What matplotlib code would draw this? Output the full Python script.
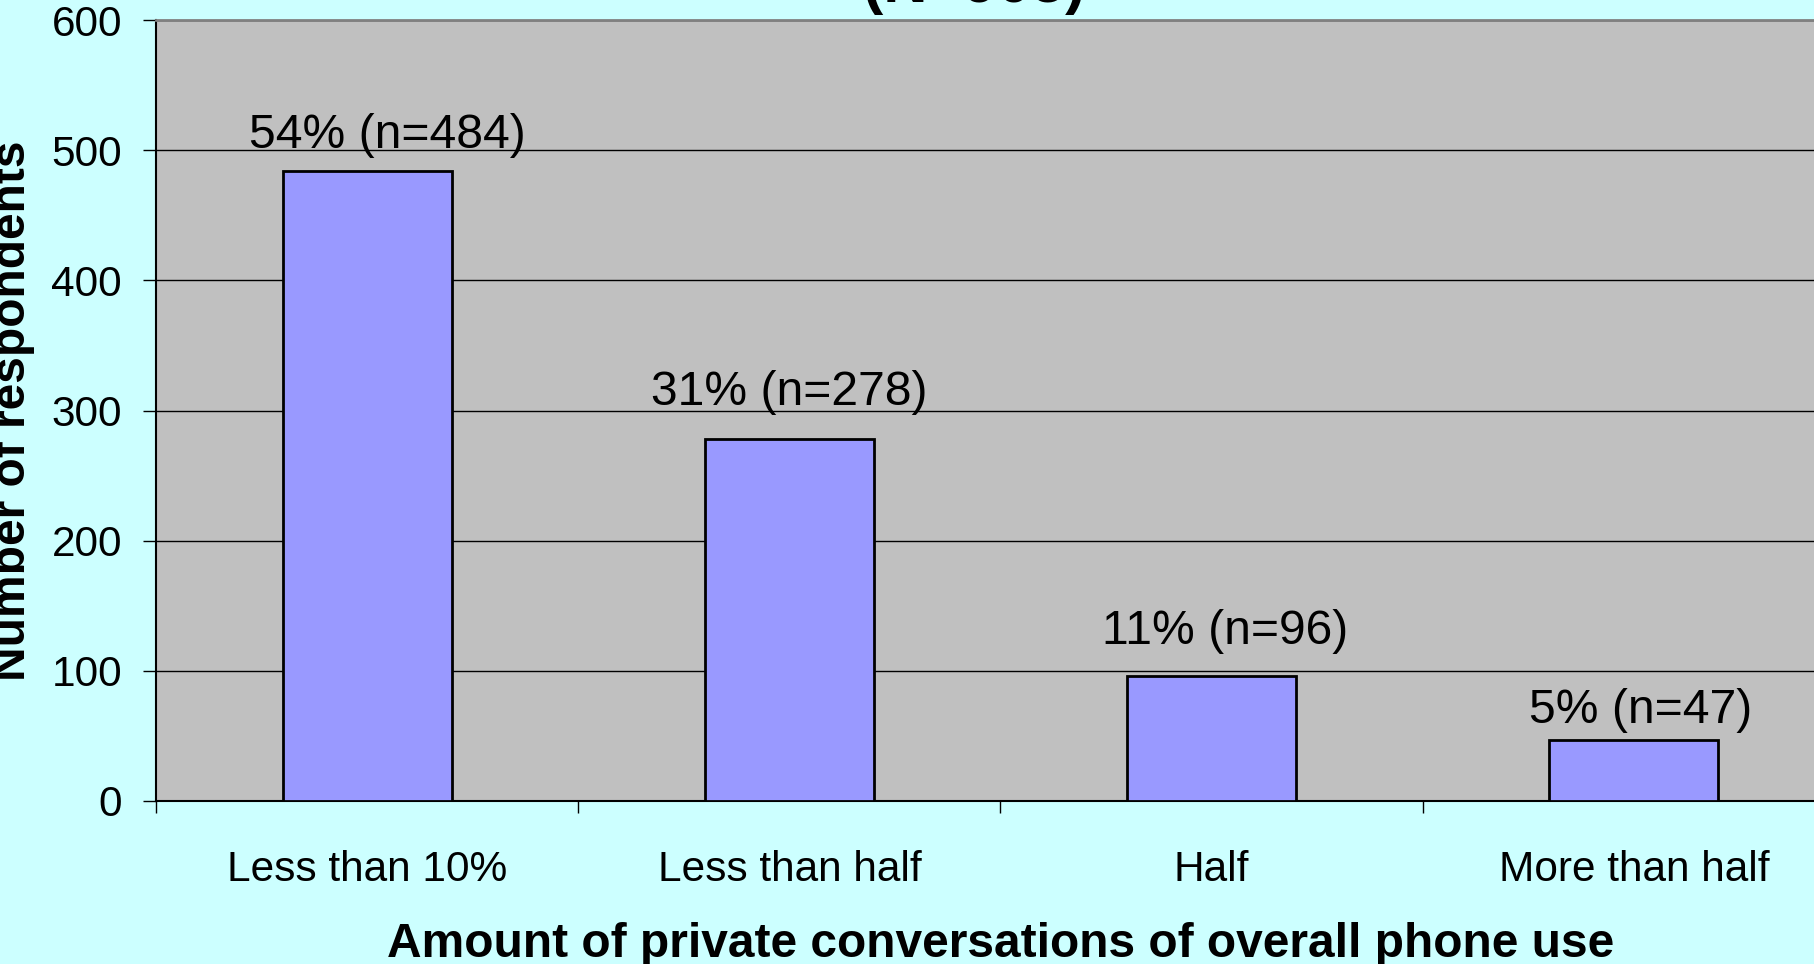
import matplotlib
matplotlib.use("Agg")
import matplotlib.pyplot as plt

# ---- data ----
categories = ["Less than 10%", "Less than half", "Half", "More than half"]
counts = [484, 278, 96, 47]
percents = [54, 31, 11, 5]
yticks = [0, 100, 200, 300, 400, 500, 600]
title_text = "(N=905)"
xlabel_text = "Amount of private conversations of overall phone use"
ylabel_text = "Number of respondents"

# label nudges (pixels) - style only
label_dx = [20, 0, 13, 7]
label_dy = [23, 34, 32, 17]

W, H = 1814, 964
plt.rcParams['font.family'] = ['Liberation Sans', 'DejaVu Sans']
fig = plt.figure(figsize=(W / 100, H / 100), dpi=100, facecolor='#CCFFFF')

left = 156 / W
bottom = 1 - 801 / H
top = 1 - 20 / H
right = 1845 / W
ax = fig.add_axes([left, bottom, right - left, top - bottom])
ax.set_facecolor('#C0C0C0')

x = list(range(len(categories)))
ax.bar(x, counts, width=0.4, color='#9999FF', edgecolor='black', linewidth=2.0, zorder=3)

ax.set_xlim(-0.5, len(categories) - 0.5)
ax.set_ylim(0, 600)
ax.set_yticks(yticks)
ax.set_yticklabels([str(v) for v in yticks])
ax.yaxis.grid(True, color='black', linewidth=1.0, zorder=1)
ax.set_axisbelow(True)

# major ticks at category boundaries, labels on minor ticks at centers
ax.set_xticks([i - 0.5 for i in range(len(categories) + 1)])
ax.set_xticklabels([])
ax.set_xticks(x, minor=True)
ax.set_xticklabels(categories, minor=True)
ax.tick_params(axis='x', which='major', direction='out', length=8.6, width=1.0, color='black')
ax.tick_params(axis='x', which='minor', length=0, pad=35, labelsize=30.5)
ax.tick_params(axis='y', direction='out', length=9.4, width=1.0, color='black', pad=15, labelsize=30.5)

for s in ['left', 'bottom']:
    ax.spines[s].set_color('black')
    ax.spines[s].set_linewidth(1.5)
ax.spines['top'].set_color('#808080')
ax.spines['top'].set_linewidth(2.0)
ax.spines['right'].set_visible(False)

for i, (c, p) in enumerate(zip(counts, percents)):
    ax.annotate(f"{p}% (n={c})", xy=(i, c), xytext=(label_dx[i], label_dy[i]),
                textcoords='offset pixels', ha='center', va='baseline', fontsize=34.6,
                zorder=4)

fig.text(974 / W, 1 - 2 / H, title_text, ha='center', va='baseline',
         fontsize=44, fontweight='bold')
fig.text((156 + 1845) / 2 / W, 1 - 957 / H, xlabel_text, ha='center', va='baseline',
         fontsize=34.5, fontweight='bold')
fig.text(25 / W, 1 - (20 + 801) / 2 / H, ylabel_text, ha='center', va='baseline',
         rotation=90, rotation_mode='anchor', fontsize=34.5, fontweight='bold')

fig.savefig('out.png', dpi=100, facecolor=fig.get_facecolor())
